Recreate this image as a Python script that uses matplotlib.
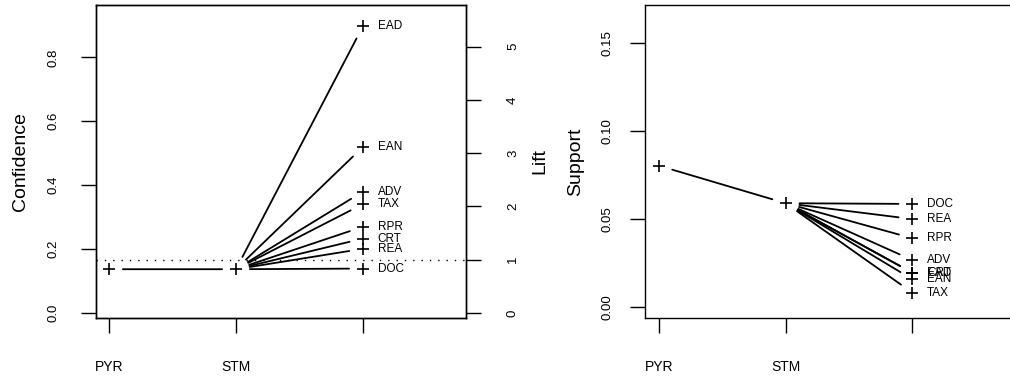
import matplotlib
matplotlib.use('Agg')
import matplotlib.pyplot as plt

plt.rcParams['font.family'] = ['Liberation Sans', 'DejaVu Sans']

# sequence positions
steps = ['PYR', 'STM', '']

# confidence / lift panel
conf_items = ['EAD', 'EAN', 'ADV', 'TAX', 'RPR', 'CRT', 'REA', 'DOC']
conf_end = [0.898, 0.52, 0.38, 0.341, 0.27, 0.233, 0.201, 0.139]
conf_pyr = 0.137
conf_stm = 0.137
lift_ref = 1.0

# support panel
supp_items = ['DOC', 'REA', 'RPR', 'ADV', 'CRT', 'EAD', 'EAN', 'TAX']
supp_end = [0.0584, 0.0498, 0.0389, 0.0265, 0.0193, 0.0193, 0.0156, 0.0080]
supp_pyr = 0.0801
supp_stm = 0.0588

conf_ticks = [0.0, 0.2, 0.4, 0.6, 0.8]
lift_ticks = [0, 1, 2, 3, 4, 5]
supp_ticks = [0.00, 0.05, 0.10, 0.15]

W, H = 1010, 376


def seg(ax, x0, y0, x1, y1):
    ax.annotate('', xy=(x1, y1), xytext=(x0, y0),
                arrowprops=dict(arrowstyle='-', color='black', lw=1.3,
                                shrinkA=10, shrinkB=10))


def style(ax, ypad):
    for s in ax.spines.values():
        s.set_linewidth(1.0)
    ax.tick_params(axis='both', direction='out', length=11, width=1.0,
                   colors='black')
    ax.tick_params(axis='x', labelsize=10, pad=19)
    ax.tick_params(axis='y', labelsize=9.5, labelrotation=90, pad=ypad)
    for lab in ax.get_yticklabels():
        lab.set_va('center')


def panel(ax, pyr, stm, names, ends):
    x = [1, 2, 3]
    ax.plot([x[0], x[1]], [pyr, stm], '+', color='black', ms=8.5, mew=1.2)
    seg(ax, x[0], pyr, x[1], stm)
    for n, v in zip(names, ends):
        seg(ax, x[1], stm, x[2], v)
        ax.plot(x[2], v, '+', color='black', ms=8.5, mew=1.2)
        ax.annotate(n, (x[2], v), xytext=(10.5, 0), textcoords='offset points',
                    va='center', ha='left', fontsize=8.5)
    ax.set_xticks(x)
    ax.set_xticklabels(steps)


fig = plt.figure(figsize=(W / 100, H / 100), dpi=100)
ax1 = fig.add_axes([96 / W, 1 - 318 / H, 370 / W, 313 / H])
ax3 = fig.add_axes([645 / W, 1 - 318 / H, 370 / W, 313 / H])

# left: confidence with lift on the right
ax1.set_xlim(0.8976, 3.811)
ax1.set_ylim(-0.0157, 0.964)
panel(ax1, conf_pyr, conf_stm, conf_items, conf_end)
ax1.set_yticks(conf_ticks)
ax1.set_yticklabels(['%.1f' % t for t in conf_ticks])
style(ax1, 15)
ax1.set_ylabel('Confidence', fontsize=14, va='center')
ax1.yaxis.set_label_coords(-0.205, 0.5)

ax2 = ax1.twinx()
ax2.set_ylim(-0.094, 5.783)
ax2.axhline(lift_ref, color='black', lw=1.0, linestyle=(0, (1, 5)))
ax2.set_yticks(lift_ticks)
ax2.set_yticklabels([str(t) for t in lift_ticks])
style(ax2, 18.5)
ax2.set_ylabel('Lift', fontsize=14, va='center', rotation=90)
ax2.yaxis.set_label_coords(1.2, 0.5)

# right: support
ax3.set_xlim(0.89, 3.81)
ax3.set_ylim(-0.0064, 0.1714)
panel(ax3, supp_pyr, supp_stm, supp_items, supp_end)
ax3.set_yticks(supp_ticks)
ax3.set_yticklabels(['%.2f' % t for t in supp_ticks])
style(ax3, 12)
ax3.set_ylabel('Support', fontsize=14, va='center')
ax3.yaxis.set_label_coords(-0.188, 0.5)

fig.savefig('out.png', dpi=100)
